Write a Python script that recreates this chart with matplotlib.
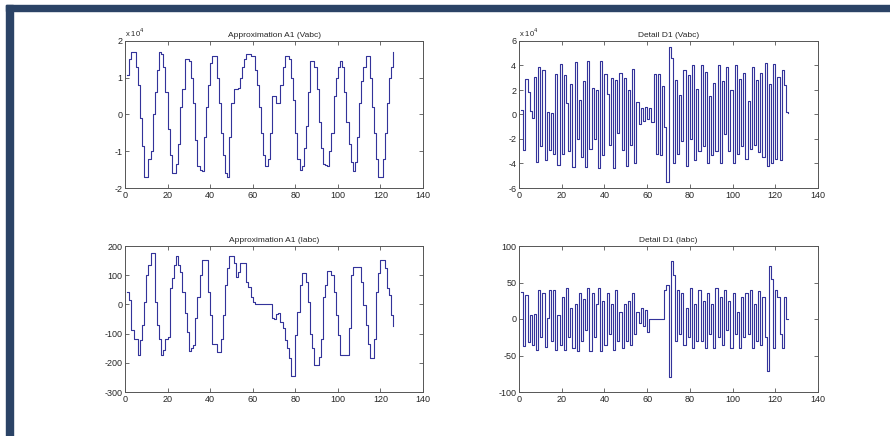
import numpy as np
import matplotlib
matplotlib.use("Agg")
import matplotlib.pyplot as plt
from matplotlib.patches import Rectangle

# ---------------- data ----------------
a1_vabc = [1.07, 1.5, 1.7, 1.7, 1.3, 0.8, -0.1, -0.85, -1.7, -1.7,
           -1.2, -1.0, 0.0, 0.6, 1.2, 1.7, 1.65, 1.3, 0.6, -0.4,
           -1.1, -1.6, -1.6, -1.35, -0.8, 0.2, 0.7, 1.5, 1.5, 1.45,
           1.0, 0.3, -0.7, -1.4, -1.5, -1.55, -0.6, 0.2, 0.8, 1.4,
           1.6, 1.6, 1.0, 0.3, -0.5, -1.1, -1.6, -1.7, -0.6, 0.3,
           0.7, 0.7, 0.72, 1.0, 1.3, 1.5, 1.65, 1.65, 1.6, 1.6,
           1.2, 0.8, 0.2, -0.5, -1.1, -1.4, -1.2, -0.5, 0.5, 0.5,
           0.3, 0.3, 0.8, 1.3, 1.6, 1.6, 1.5, 1.0, 0.4, -0.5,
           -1.2, -1.5, -1.4, -0.9, -0.3, 0.6, 1.45, 1.45, 1.3, 0.7,
           -0.2, -0.9, -1.35, -1.37, -1.4, -1.0, -0.5, 0.5, 1.0, 1.3,
           1.45, 1.3, 0.6, -0.2, -0.8, -1.3, -1.55, -1.3, -0.6, 0.3,
           0.9, 1.3, 1.6, 1.6, 1.0, 0.2, -0.5, -1.2, -1.7, -1.7,
           -1.2, -0.5, 0.3, 1.0, 1.3, 1.7]

d1_vabc = [0.4, -2.9, 2.9, 1.8, 0.3, -0.3, 3.1, -3.9, 3.9, -2.6,
           3.6, -3.7, 0.2, -2.9, 0.1, -3.2, 3.3, -4.1, 4.1, -3.2,
           3.2, 0.9, -3.0, 2.5, -4.3, 4.3, -2.0, 1.2, -3.5, 2.7,
           -4.3, 4.4, -2.8, 2.2, -2.0, 2.0, -4.4, 4.4, -3.3, 3.3,
           1.7, -2.5, 3.0, -4.4, 2.8, -1.5, 3.4, -2.9, 3.0, -4.2,
           2.0, -2.5, 3.7, -4.0, 1.0, -0.8, 0.5, -0.5, 0.6, -0.4,
           0.5, -0.6, 3.3, -3.2, 3.3, -3.3, 2.3, -1.0, -5.5, 5.5,
           4.6, -4.0, 2.8, -3.2, 1.6, -2.2, 3.6, -4.2, 3.2, -2.0,
           4.0, -3.7, 2.1, -3.0, 4.0, -2.6, 3.5, -4.0, 1.5, -3.3,
           2.6, -3.0, 4.0, -4.0, 2.7, -1.6, 3.9, -3.0, 2.0, -4.0,
           4.0, -3.2, 2.9, -2.6, 3.4, -3.6, 1.1, -2.8, 3.9, -2.5,
           2.8, -3.1, 3.4, -3.5, 4.2, -4.2, 2.5, -4.0, 4.1, -3.6,
           3.1, -3.7, 3.6, 2.4, 0.2, 0.1]

a1_iabc = [43, 15, -88, -117, -117, -172, -122, -71, 9, 100,
           135, 175, 175, 9, -71, -117, -174, -157, -117, -111,
           55, 89, 135, 167, 135, 112, 43, -31, -94, -160,
           -151, -140, -48, 26, 100, 152, 152, 152, 43, -37,
           -137, -137, -162, -162, -117, -37, 66, 124, 167, 167,
           141, 95, 112, 141, 141, 141, 78, 61, 26, 9,
           0, 0, 0, 0, 0, 0, 0, 0, -48, -50,
           -34, -31, -60, -82, -122, -151, -185, -245, -245, -105,
           -25, 66, 106, 106, 78, 9, -100, -151, -206, -206,
           -180, -117, 26, 66, 116, 116, 100, 43, -37, -105,
           -174, -174, -174, -174, -82, 100, 129, 129, 129, 129,
           78, -2, -71, -134, -185, -185, -117, 43, 106, 152,
           152, 124, 55, 32, -37, -75]

d1_iabc = [37, -37, 33, -32, 5, -35, 7, -42, 40, -25,
           36, -38, 2, 40, -30, 40, -42, 5, -35, 30,
           -43, 42, -25, 15, -40, 20, -44, 36, -30, 27,
           -15, 43, -44, 35, -25, 20, 42, -44, 25, -35,
           35, -20, 20, -43, 40, -30, 10, -40, 20, -30,
           25, -35, 35, -20, 10, -5, 15, -10, 12, -18,
           0, 0, 0, 0, 0, 0, 0, 40, 47, -80,
           80, 60, -30, 40, -20, 35, -35, 15, -25, 42,
           -40, 20, -30, 40, -30, 25, -40, 35, -20, 20,
           -40, 42, -25, 30, -35, 40, -15, 25, -40, 35,
           -20, 10, -40, 30, -25, 35, -20, 40, -40, 20,
           -30, 38, -35, 30, -25, -71, 72, 55, -40, 40,
           30, -20, -40, 30, 0, 0]

titles = ["Approximation A1 (Vabc)", "Detail D1 (Vabc)",
          "Approximation A1 (Iabc)", "Detail D1 (Iabc)"]
x_ticks = [0, 20, 40, 60, 80, 100, 120, 140]
y_ticks_a1v = [-2, -1, 0, 1, 2]
y_ticks_d1v = [-6, -4, -2, 0, 2, 4, 6]
y_ticks_a1i = [-300, -200, -100, 0, 100, 200]
y_ticks_d1i = [-100, -50, 0, 50, 100]
exponents = ["x 10$^{4}$", "x 10$^{4}$", None, None]

# ---------------- figure ----------------
W, H = 890, 436
fig = plt.figure(figsize=(W / 100, H / 100), dpi=100)
fig.patch.set_facecolor("white")

plt.rcParams["font.family"] = ["Liberation Sans", "DejaVu Sans"]

navy = "#2b4366"
fig.patches.append(Rectangle((6 / W, (H - 11) / H), 1 - 6 / W, 5.5 / H,
                             transform=fig.transFigure, color=navy, zorder=0))
fig.patches.append(Rectangle((6 / W, 0), 6.5 / W, (H - 5.5) / H,
                             transform=fig.transFigure, color=navy, zorder=0))

def px_axes(x0, y0, x1, y1):
    return fig.add_axes([x0 / W, (H - y1) / H, (x1 - x0) / W, (y1 - y0) / H])

axes = [px_axes(125, 41, 423, 188), px_axes(519, 41, 818, 188),
        px_axes(125, 246, 423, 392), px_axes(519, 246, 818, 392)]

series = [a1_vabc, d1_vabc, a1_iabc, d1_iabc]
yticks = [y_ticks_a1v, y_ticks_d1v, y_ticks_a1i, y_ticks_d1i]
line_col = "#33339a"
txt_col = "#262626"

for ax, s, yt, title, ex in zip(axes, series, yticks, titles, exponents):
    xs = np.arange(1, len(s) + 1)
    ax.plot(xs, s, color=line_col, lw=0.8, drawstyle="steps-post")
    ax.set_xlim(0, 140)
    ax.set_ylim(yt[0], yt[-1])
    ax.set_xticks(x_ticks)
    ax.set_yticks(yt)
    ax.set_xticklabels([str(v) for v in x_ticks])
    ax.set_yticklabels([str(v) for v in yt])
    ax.tick_params(direction="in", length=3, width=0.6, colors="#555555",
                   labelcolor=txt_col, labelsize=6.5, top=True, right=True,
                   pad=2)
    for sp in ax.spines.values():
        sp.set_color("#555555")
        sp.set_linewidth(0.7)
    ax.set_title(title, fontsize=6, color=txt_col, pad=3)
    if ex:
        ax.text(0.0, 1.015, ex, transform=ax.transAxes, fontsize=5.5,
                color=txt_col, ha="left", va="bottom")

fig.savefig("out.png", dpi=100, facecolor="white")
